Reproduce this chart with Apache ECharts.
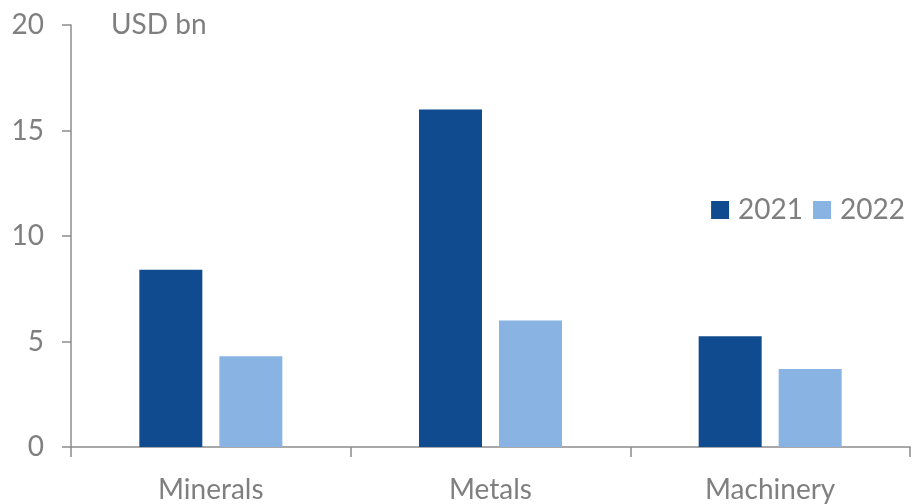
<!DOCTYPE html>
<html>
<head>
<meta charset="utf-8">
<script src="https://cdn.jsdelivr.net/npm/echarts@6/dist/echarts.min.js"></script>
<style>
  html, body { margin: 0; padding: 0; background: #fff; }
  #chart { width: 912px; height: 504px; }
</style>
</head>
<body>
<div id="chart"></div>
<script>
// Trade values by product group, USD bn
const categories = ['Minerals', 'Metals', 'Machinery'];
const values2021 = [8.4, 16.0, 5.25];
const values2022 = [4.3, 6.0, 3.7];
const seriesNames = ['2021', '2022'];
const yTicks = [0, 5, 10, 15, 20];

const FONT = 'Lato';
const TEXT_GRAY = '#7f7f7f';
const AXIS_GRAY = '#8c8c8c';

const chart = echarts.init(document.getElementById('chart'), null, { renderer: 'canvas' });

chart.setOption({
  animation: false,
  textStyle: { fontFamily: FONT },
  title: {
    text: 'USD bn',
    left: 106,
    top: 6,
    textStyle: { fontFamily: FONT, fontSize: 28, fontWeight: 'normal', color: TEXT_GRAY }
  },
  legend: {
    data: seriesNames,
    right: 2,
    top: 191,
    itemWidth: 18,
    itemHeight: 18,
    itemGap: 10,
    icon: 'rect',
    textStyle: { fontFamily: FONT, fontSize: 28, color: TEXT_GRAY, padding: [0, 0, 0, 4] }
  },
  grid: { left: 71, right: 2, top: 25, bottom: 57, containLabel: false },
  xAxis: {
    type: 'category',
    data: categories,
    axisLine: { lineStyle: { color: AXIS_GRAY, width: 1.5 } },
    axisTick: { show: true, length: 10, lineStyle: { color: AXIS_GRAY, width: 1.5 } },
    axisLabel: { fontFamily: FONT, fontSize: 28, color: TEXT_GRAY, margin: 29 },
    splitLine: { show: false }
  },
  yAxis: {
    type: 'value',
    min: yTicks[0],
    max: yTicks[yTicks.length - 1],
    interval: 5,
    axisLine: { show: true, lineStyle: { color: AXIS_GRAY, width: 1.5 } },
    axisTick: { show: true, length: 9, lineStyle: { color: AXIS_GRAY, width: 1.5 } },
    axisLabel: { fontFamily: FONT, fontSize: 28, color: TEXT_GRAY, margin: 27 },
    splitLine: { show: false }
  },
  series: [
    {
      name: seriesNames[0],
      type: 'bar',
      data: values2021,
      barWidth: 63,
      barGap: '27%',
      itemStyle: { color: '#114b8f' }
    },
    {
      name: seriesNames[1],
      type: 'bar',
      data: values2022,
      barWidth: 63,
      barGap: '27%',
      itemStyle: { color: '#88b3e3' }
    }
  ]
});
</script>
</body>
</html>
